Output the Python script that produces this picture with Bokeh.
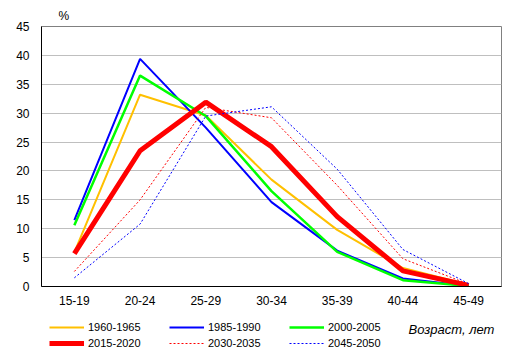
from bokeh.plotting import figure
from bokeh.layouts import column
from bokeh.models import FactorRange, Range1d, FixedTicker, Legend, LegendItem, Label, Title
from bokeh.embed import file_html
from bokeh.resources import INLINE

ages = ["15-19", "20-24", "25-29", "30-34", "35-39", "40-44", "45-49"]
s1960 = [5.9, 33.2, 29.6, 18.5, 9.8, 3.2, 0.3]
s1985 = [11.5, 39.4, 27.5, 14.6, 6.2, 1.4, 0.1]
s2000 = [10.6, 36.5, 29.5, 16.5, 6.0, 1.1, 0.1]
s2015 = [5.7, 23.5, 31.9, 24.2, 12.1, 2.7, 0.2]
s2030 = [2.6, 15.0, 31.0, 29.2, 17.5, 4.8, 0.4]
s2045 = [1.5, 10.8, 29.5, 31.1, 20.3, 6.4, 0.5]
names = ["1960-1965", "1985-1990", "2000-2005", "2015-2020", "2030-2035", "2045-2050"]
yticks = [0, 5, 10, 15, 20, 25, 30, 35, 40, 45]

FONT = "Liberation Sans"

p = figure(width=515, height=310, x_range=FactorRange(*ages), y_range=Range1d(0, 45),
           output_backend="svg", toolbar_location=None,
           min_border_left=41, min_border_right=14, min_border_top=26, min_border_bottom=24)
p.outline_line_color = "#808080"
p.xgrid.grid_line_color = None
p.ygrid.grid_line_color = "#BFBFBF"
p.ygrid.ticker = FixedTicker(ticks=yticks)
p.yaxis.ticker = FixedTicker(ticks=yticks)
for ax in (p.xaxis, p.yaxis):
    ax.axis_line_color = "black"
    ax.major_tick_line_color = None
    ax.minor_tick_line_color = None
    ax.major_label_text_font = FONT
    ax.major_label_text_font_size = "12px"
    ax.major_label_text_color = "black"
    ax.major_label_standoff = 6
p.xaxis.major_label_standoff = 3

t = Title(text="%", align="left", offset=17, text_font=FONT, text_font_size="12px",
          text_font_style="normal", text_color="black", standoff=8)
p.add_layout(t, "above")

styles = [
    (s1960, "#FFC000", 2, "solid"),
    (s1985, "#0000FF", 2, "solid"),
    (s2000, "#00FF00", 2.5, "solid"),
    (s2015, "#FF0000", 5, "solid"),
    (s2030, "#FF0000", 1, "2 2"),
    (s2045, "#0000FF", 1, "2 2"),
]
for (vals, col, w, dash) in styles:
    p.line(ages, vals, line_color=col, line_width=w, line_dash=dash)

# legend strip below the chart
p2 = figure(width=515, height=47, x_range=Range1d(0, 1), y_range=Range1d(0, 1),
            output_backend="svg", toolbar_location=None,
            x_axis_location=None, y_axis_location=None,
            min_border_left=41, min_border_right=14, min_border_top=0, min_border_bottom=0)
p2.outline_line_color = None
p2.grid.grid_line_color = None
rends = []
for (vals, col, w, dash) in styles:
    rends.append(p2.line([-5, -4], [-5, -4], line_color=col, line_width=w, line_dash=dash))

items = [LegendItem(label=n, renderers=[r]) for n, r in zip(names, rends)]
leg = Legend(items=items, ncols=3, location=(8, 6), orientation="horizontal",
             glyph_width=35, glyph_height=16, label_standoff=4, label_width=81,
             spacing=0, padding=0, margin=0,
             label_text_font=FONT, label_text_font_size="11px", label_text_color="black",
             border_line_alpha=0, background_fill_alpha=0)
p2.add_layout(leg, "center")
p2.add_layout(Label(x=367, y=28, x_units="screen", y_units="screen", text="Возраст, лет",
                    text_font=FONT, text_font_size="13px", text_font_style="italic",
                    text_color="black", text_baseline="alphabetic"))

open("out.html", "w").write(file_html(column(p, p2, spacing=0), INLINE))
